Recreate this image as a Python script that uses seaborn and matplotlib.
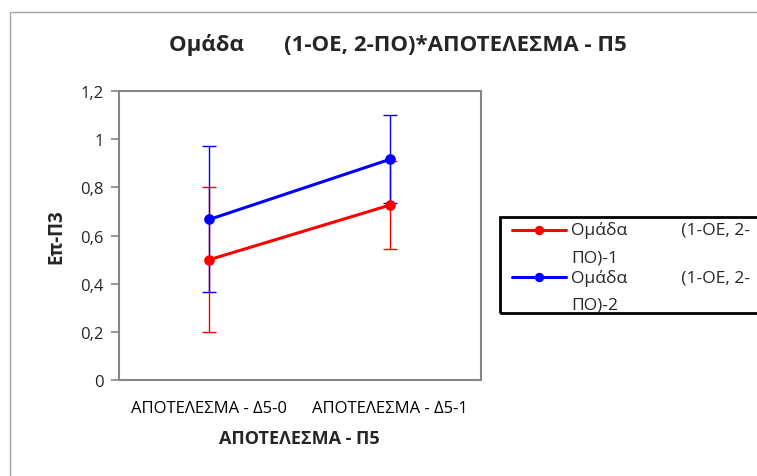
import matplotlib
matplotlib.use("Agg")
import matplotlib.pyplot as plt
import matplotlib.patches as mpatches
from matplotlib.legend_handler import HandlerLine2D
from matplotlib.lines import Line2D
import pandas as pd
import seaborn as sns

# ── data ──────────────────────────────────────────────────────────────────────
categories = ["ΑΠΟΤΕΛΕΣΜΑ - Δ5-0", "ΑΠΟΤΕΛΕΣΜΑ - Δ5-1"]
# legend labels wrapped the way Excel wraps them
groups = ["Ομάδα" + " " * 12 + "(1-ΟΕ, 2-\nΠΟ)-1",
          "Ομάδα" + " " * 12 + "(1-ΟΕ, 2-\nΠΟ)-2"]
means_g1 = [0.500, 0.727]
means_g2 = [0.667, 0.917]
err_g1 = [0.300, 0.182]
err_g2 = [0.303, 0.182]
yticks = [0, 0.2, 0.4, 0.6, 0.8, 1.0, 1.2]
ytick_labels = ["0", "0,2", "0,4", "0,6", "0,8", "1", "1,2"]
colors = ["#FF0000", "#0000FF"]

df = pd.DataFrame({
    "cat": categories * 2,
    "mean": means_g1 + means_g2,
    "group": [groups[0]] * 2 + [groups[1]] * 2,
})


class TopLineHandler(HandlerLine2D):
    """Put the legend line next to the first text line, like Excel."""
    def create_artists(self, legend, orig_handle, xdescent, ydescent,
                       width, height, fontsize, trans):
        return super().create_artists(legend, orig_handle, xdescent - 6.5,
                                      ydescent - 19, width, height,
                                      fontsize, trans)


sns.set_theme(style="white")
plt.rcParams["font.family"] = ["Open Sans", "DejaVu Sans"]

fig = plt.figure(figsize=(7.57, 4.77), dpi=100)
ax = fig.add_axes([0.157, 0.201, 0.478, 0.606])

# outer chart border
fig.patches.append(mpatches.Rectangle((10 / 757, -0.1), 1.2, 1.1 - 13 / 477,
                                      transform=fig.transFigure, fill=False,
                                      edgecolor="#A6A6A6", linewidth=1.0))

sns.pointplot(data=df, x="cat", y="mean", hue="group", palette=colors,
              markers="o", errorbar=None, ax=ax, linewidth=2.2,
              markersize=6)

xpos = range(len(categories))
for m, e, c in zip([means_g1, means_g2], [err_g1, err_g2], colors):
    ax.errorbar(xpos, m, yerr=e, fmt="none", ecolor=c, elinewidth=1.0,
                capsize=5, capthick=1.0, zorder=1)

ax.set_xlim(-0.5, 1.5)
ax.set_ylim(0, 1.2)
ax.set_yticks(yticks)
ax.set_yticklabels(ytick_labels)
ax.set_xticks(list(xpos))
ax.set_xticklabels(categories)
ax.set_xticks([-0.5, 0.5, 1.5], minor=True)
ax.tick_params(axis="x", which="major", length=0, pad=14, labelsize=12,
               colors="black")
ax.tick_params(axis="x", which="minor", length=9, direction="inout",
               width=1.2, color="#868686")
ax.tick_params(axis="y", length=6, width=1.2, color="#868686", direction="out",
               labelsize=12, left=True, pad=5)
for s in ax.spines.values():
    s.set_color("#868686")
    s.set_linewidth(1.5)

ax.set_xlabel("ΑΠΟΤΕΛΕΣΜΑ - Π5", fontweight="bold", fontsize=13, labelpad=10)
ax.set_ylabel("Επ-Π3", fontweight="bold", fontsize=13.5, labelpad=10)

fig.text(398 / 757, 1 - 45 / 477, "Ομάδα       (1-ΟΕ, 2-ΠΟ)*ΑΠΟΤΕΛΕΣΜΑ - Π5",
         ha="center", va="center", fontweight="bold", fontsize=16)

handles, labels = ax.get_legend_handles_labels()
leg = ax.legend(handles, labels, loc="upper left",
                bbox_to_anchor=(499 / 757, 1 - 218 / 477),
                bbox_transform=fig.transFigure, borderaxespad=0, fontsize=12.5,
                frameon=False, handlelength=3.1, handletextpad=0.8,
                labelspacing=0.2, borderpad=0.25, markerscale=0.85,
                handler_map={Line2D: TopLineHandler()})
for t in leg.get_texts():
    t.set_linespacing(1.9)

# legend box runs past the right edge of the chart, as in Excel
fig.patches.append(mpatches.Rectangle((500 / 757, 1 - 314 / 477), 0.5,
                                      96 / 477, transform=fig.transFigure,
                                      fill=False, edgecolor="black",
                                      linewidth=2.0))

fig.savefig("out.png", dpi=100)
